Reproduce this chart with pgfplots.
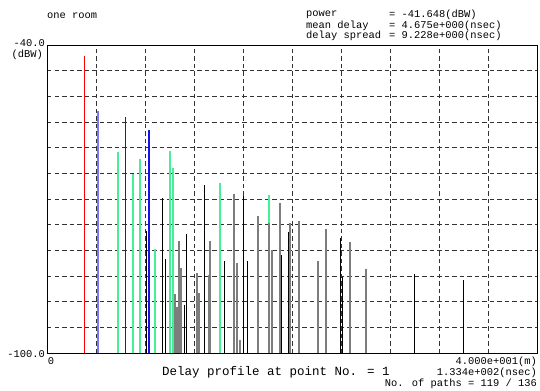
\documentclass[border=0pt]{standalone}
\usepackage{pgfplots}
\pgfplotsset{compat=1.18}
\usepackage{pgfplotstable}
\usepackage{fontspec}
\setmainfont{Liberation Mono}
\definecolor{mint}{RGB}{70,238,150}
\definecolor{lblue}{RGB}{120,120,255}
\definecolor{dblue}{RGB}{20,20,230}
\definecolor{pgray}{RGB}{125,125,125}

\pgfplotstableread{
x y
3.05 -42.1
}\tred
\pgfplotstableread{
x y
4.14 -52.8
}\tlblue
\pgfplotstableread{
x y
6.39 -54.1
8.33 -56.6
}\tblue
\pgfplotstableread{
x y
5.77 -60.9
7.04 -65.1
7.57 -62.3
8.82 -79.7
10.04 -60.7
10.29 -64.0
14.15 -66.9
18.11 -69.2
}\tmint
\pgfplotstableread{
x y
10.45 -88.5
10.59 -91.1
10.80 -78.2
10.96 -83.4
12.22 -84.5
12.38 -88.4
13.20 -84.8
13.33 -78.2
15.27 -69.0
15.49 -82.5
15.73 -97.4
17.20 -73.3
18.11 -74.7
18.37 -79.9
19.00 -70.8
19.84 -74.7
20.55 -74.3
22.12 -82.1
22.80 -75.8
24.73 -78.4
26.04 -83.6
}\tgray
\pgfplotstableread{
x y
8.11 -76.2
9.41 -69.9
9.66 -81.7
11.21 -90.6
11.37 -76.9
12.87 -67.3
14.47 -82.1
16.06 -69.5
16.35 -82.1
19.13 -81.0
19.70 -76.4
23.98 -77.5
24.14 -85.2
30.02 -84.7
33.96 -85.8
}\tblack

\pgfplotsset{imp/.style 2 args={draw=none, mark=none, forget plot,
  error bars/.cd, y dir=minus, y explicit, error mark=none,
  error bar style={draw=#1, solid, line width=#2}}}

\newcommand\sm{\fontsize{10.4bp}{11bp}\selectfont}
\newcommand\bg{\fontsize{12.5bp}{13bp}\selectfont}

\begin{document}
\begin{tikzpicture}[x=1bp,y=1bp]
\begin{axis}[
  width=490bp, height=308bp, scale only axis,
  xmin=0, xmax=40, ymin=-100, ymax=-40,
  xtick={4,8,...,36}, ytick={-95,-90,...,-45},
  xticklabels={}, yticklabels={},
  major tick length=0pt,
  grid=major,
  major grid style={black!80, line width=0.65bp, dash pattern=on 4.5bp off 3bp},
  axis line style={line width=0.9bp, black},
  clip mode=individual]
\addplot[imp={mint}{1.8bp}] table[x=x, y=y, y error expr=\thisrow{y}+100] {\tmint};
\addplot[imp={pgray}{1.8bp}] table[x=x, y=y, y error expr=\thisrow{y}+100] {\tgray};
\addplot[imp={black}{1bp}] table[x=x, y=y, y error expr=\thisrow{y}+100] {\tblack};
\addplot[imp={dblue}{1.2bp}] table[x=x, y=y, y error expr=\thisrow{y}+100] {\tblue};
\addplot[imp={lblue}{2bp}] table[x=x, y=y, y error expr=\thisrow{y}+100] {\tlblue};
\addplot[imp={red}{1bp}] table[x=x, y=y, y error expr=\thisrow{y}+100] {\tred};
\coordinate (o) at (rel axis cs:0,0);
\node[anchor=west, inner sep=0] at (rel axis cs:0,1.0951) {\sm one room};
\node[anchor=west, inner sep=0] at (rel axis cs:0.52857,1.0974) {\sm power};
\node[anchor=west, inner sep=0] at (rel axis cs:0.52857,1.0627) {\sm mean delay};
\node[anchor=west, inner sep=0] at (rel axis cs:0.52857,1.0286) {\sm delay spread};
\node[anchor=west, inner sep=0] at (rel axis cs:0.69796,1.0974) {\sm = -41.648(dBW)};
\node[anchor=west, inner sep=0] at (rel axis cs:0.69796,1.0627) {\sm = 4.675e+000(nsec)};
\node[anchor=west, inner sep=0] at (rel axis cs:0.69796,1.0286) {\sm = 9.228e+000(nsec)};
\node[anchor=east, inner sep=0] at (rel axis cs:-0.00408,1.0065) {\sm -40.0};
\node[anchor=east, inner sep=0] at (rel axis cs:-0.00816,0.9675) {\sm (dBW)};
\node[anchor=east, inner sep=0] at (rel axis cs:-0.00408,-0.0032) {\sm -100.0};
\node[inner sep=0] at (rel axis cs:0.00816,-0.0276) {\sm 0};
\node[anchor=east, inner sep=0] at (rel axis cs:1,-0.0292) {\sm 4.000e+001(m)};
\node[anchor=east, inner sep=0] at (rel axis cs:1,-0.0640) {\sm 1.334e+002(nsec)};
\node[anchor=west, inner sep=0] at (rel axis cs:0.23469,-0.0640) {\bg Delay profile at point No. = 1};
\node[anchor=east, inner sep=0] at (rel axis cs:1,-0.1006) {\sm No. of paths = 119 / 136};
\end{axis}
\pgfresetboundingbox
\path[use as bounding box] (o) ++(-47,-37) rectangle ++(540,390);
\end{tikzpicture}
\end{document}
